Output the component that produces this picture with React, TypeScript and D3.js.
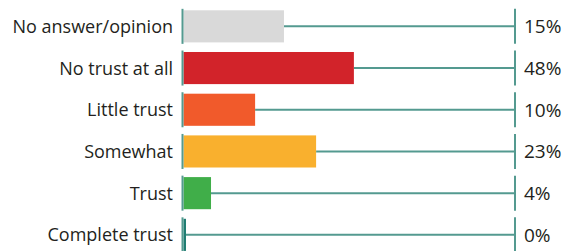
import { useEffect, useRef } from 'react';
import * as d3 from 'd3';

// categories top to bottom
const categories = [
  'No answer/opinion',
  'No trust at all',
  'Little trust',
  'Somewhat',
  'Trust',
  'Complete trust',
];

// labels printed at the right
const percentLabels = ['15%', '48%', '10%', '23%', '4%', '0%'];

// bar lengths (share of the axis span)
const barValues = [30.3, 51.4, 21.6, 40.0, 8.3, 0.75];

const barColors = ['#d9d9d9', '#d2232a', '#f15a2b', '#f9b02e', '#40ae49', '#1f7d72'];

const WIDTH = 576;
const HEIGHT = 251;
const TEAL = '#549a90';

export default function App() {
  const svgRef = useRef<SVGSVGElement>(null);

  useEffect(() => {
    if (!svgRef.current) return;
    const svg = d3.select(svgRef.current);
    svg.selectAll('*').remove();

    const x = d3.scaleLinear().domain([0, 100]).range([183.5, 515]);
    const y = d3
      .scaleBand<string>()
      .domain(categories)
      .range([5.5, 255.7])
      .paddingInner(0.23)
      .paddingOuter(0.115);

    const step = y.step();
    const segLen = step * 0.84;

    const rows = svg
      .selectAll('g.row')
      .data(categories)
      .join('g')
      .attr('class', 'row');

    const cy = (d: string) => (y(d) as number) + y.bandwidth() / 2;

    // connector from bar end to right axis
    rows
      .append('line')
      .attr('x1', (_, i) => x(barValues[i]))
      .attr('x2', x(100))
      .attr('y1', cy)
      .attr('y2', cy)
      .attr('stroke', TEAL)
      .attr('stroke-width', 2);

    // bars
    rows
      .append('rect')
      .attr('x', x(0))
      .attr('y', (d) => y(d) as number)
      .attr('width', (_, i) => x(barValues[i]) - x(0))
      .attr('height', y.bandwidth())
      .attr('fill', (_, i) => barColors[i]);

    // left axis segments
    rows
      .append('line')
      .attr('x1', x(0) - 1)
      .attr('x2', x(0) - 1)
      .attr('y1', (d) => cy(d) - segLen / 2)
      .attr('y2', (d) => cy(d) + segLen / 2)
      .attr('stroke', TEAL)
      .attr('stroke-width', 2);

    // right axis segments
    rows
      .append('line')
      .attr('x1', x(100))
      .attr('x2', x(100))
      .attr('y1', (d) => cy(d) - segLen / 2)
      .attr('y2', (d) => cy(d) + segLen / 2)
      .attr('stroke', TEAL)
      .attr('stroke-width', 2);

    // category labels
    rows
      .append('text')
      .attr('x', 173)
      .attr('y', cy)
      .attr('dy', '0.36em')
      .attr('text-anchor', 'end')
      .attr('font-family', '"Open Sans", sans-serif')
      .attr('font-size', 18)
      .attr('fill', '#231f20')
      .text((d) => d);

    // percent labels
    rows
      .append('text')
      .attr('x', x(100) + 9)
      .attr('y', cy)
      .attr('dy', '0.36em')
      .attr('font-family', '"Open Sans", sans-serif')
      .attr('font-size', 19)
      .attr('fill', '#231f20')
      .text((_, i) => percentLabels[i]);
  }, []);

  return (
    <svg
      ref={svgRef}
      width={WIDTH}
      height={HEIGHT}
      style={{ position: 'absolute', left: 0, top: 0, background: '#fff' }}
    />
  );
}
